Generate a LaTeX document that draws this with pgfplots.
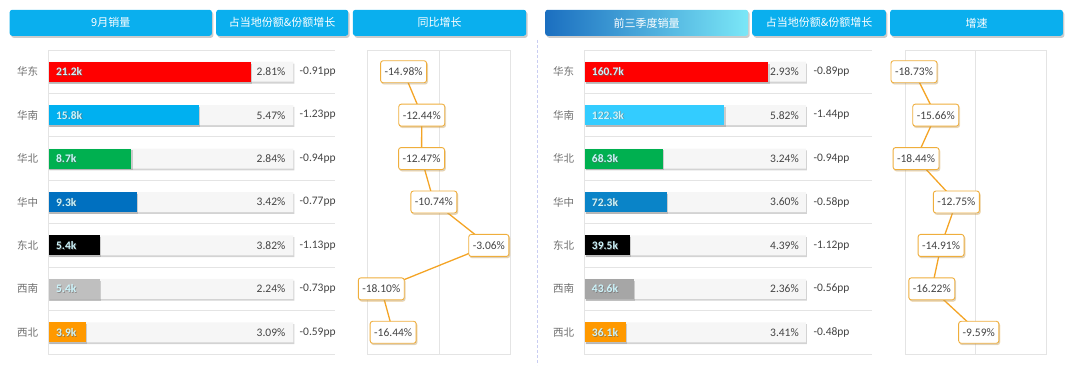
\documentclass[border=0pt]{standalone}
\usepackage{pgfplots}
\usepackage{pgfplotstable}
\pgfplotsset{compat=1.18}
\usetikzlibrary{shadows}
\usepackage{fontspec}
\setmainfont{Carlito}
\newfontfamily\cjk{Noto Sans CJK SC}

\definecolor{hdr}{HTML}{0AAFEE}
\definecolor{hdrA}{HTML}{1B6FC0}
\definecolor{hdrB}{HTML}{7BE7F7}
\definecolor{gridc}{HTML}{E4E4E4}
\definecolor{bgbar}{HTML}{F6F6F6}
\definecolor{txt}{HTML}{444444}
\definecolor{cat}{HTML}{6E6E6E}
\definecolor{linec}{HTML}{F4A425}
\definecolor{boxc}{HTML}{EFAE3C}
\definecolor{vallab}{HTML}{CDF5FC}
\definecolor{sep}{HTML}{C9CDF2}
\definecolor{cR}{HTML}{FF0000}
\definecolor{cBa}{HTML}{00B0F0}
\definecolor{cBb}{HTML}{33CCFF}
\definecolor{cG}{HTML}{00B050}
\definecolor{cDa}{HTML}{0070C0}
\definecolor{cDb}{HTML}{0A84C8}
\definecolor{cK}{HTML}{000000}
\definecolor{cSa}{HTML}{BFBFBF}
\definecolor{cSb}{HTML}{A6A6A6}
\definecolor{cO}{HTML}{FF9900}

\pgfplotsset{
  barax/.style={scale only axis, height=304pt, anchor=south west,
    ymin=-0.5, ymax=6.5, y dir=reverse, xmin=0,
    axis line style={draw=none}, tick style={draw=none},
    major tick length=0pt, minor tick length=0pt,
    ytick={0,...,6}, yticklabels={华东,华南,华北,华中,东北,西南,西北},
    yticklabel style={font=\cjk\fontsize{10.5}{12}\selectfont, text=cat, inner sep=0pt, anchor=east, xshift=-10pt},
    xtick=\empty,
    minor ytick={-0.5,0.5,...,6.5}, yminorgrids,
    minor grid style={gridc, line width=0.8pt},
    clip=false, /pgf/number format/assume math mode=true},
  lineax/.style={scale only axis, height=304pt, anchor=south west,
    ymin=-0.5, ymax=6.5, y dir=reverse, xmin=-20, xmax=0,
    axis line style={gridc, line width=0.8pt}, tick style={draw=none},
    major tick length=0pt, minor tick length=0pt,
    xtick={-10}, xticklabel style={text opacity=0}, xmajorgrids, ytick=\empty,
    minor ytick={0.5,1.5,...,5.5}, yminorgrids,
    grid style={gridc, line width=0.8pt},
    minor grid style={gridc, line width=0.8pt},
    clip=false, /pgf/number format/assume math mode=true},
  cbar/.style={xbar, bar width=20pt, bar shift=0pt, draw=none, fill=#1,
    drop shadow={shadow xshift=1.2pt, shadow yshift=-1.8pt, opacity=0.35}},
  labplot/.style={only marks, mark=none, point meta=explicit,
    every node near coord/.append style={anchor=#1, inner sep=0pt, text=txt,
      font=\fontsize{11.5}{13}\selectfont}},
  ptline/.style={linec, line width=1.3pt, mark=none, point meta=x,
    nodes near coords={\pgfmathprintnumber[fixed,fixed zerofill,precision=2]{\pgfplotspointmeta}\%},
    every node near coord/.append style={anchor=center, draw=boxc, line width=0.9pt,
      fill=white, rounded corners=2.5pt, inner xsep=4pt, inner ysep=0pt,
      minimum height=22pt, text=txt, font=\fontsize{11.5}{13}\selectfont,
      drop shadow={shadow xshift=1pt, shadow yshift=-1.5pt, opacity=0.3}}},
}

\pgfplotstableread{
y v pct pp
0 21.2 2.81 -0.91
1 15.8 5.47 -1.23
2 8.7 2.84 -0.94
3 9.3 3.42 -0.77
4 5.4 3.82 -1.13
5 5.4 2.24 -0.73
6 3.9 3.09 -0.59
}\leftdata

\pgfplotstableread{
y v pct pp
0 160.7 2.93 -0.89
1 122.3 5.82 -1.44
2 68.3 3.24 -0.94
3 72.3 3.60 -0.58
4 39.5 4.39 -1.12
5 43.6 2.36 -0.56
6 36.1 3.41 -0.48
}\rightdata

\begin{document}
\begin{tikzpicture}[x=1pt,y=1pt]
% headers
\tikzset{hbox/.style={anchor=south west, inner sep=0pt, minimum height=26pt,
  rounded corners=2.5pt, text=white, font=\cjk\fontsize{11}{13}\selectfont,
  drop shadow={shadow xshift=1.5pt, shadow yshift=-2pt, opacity=0.4}}}
\node[hbox, fill=hdr, minimum width=202.2pt] at (9.5,329) {9月销量};
\node[hbox, fill=hdr, minimum width=132pt] at (216,329) {占当地份额\&份额增长};
\node[hbox, fill=hdr, minimum width=173.3pt] at (352.7,329) {同比增长};
\node[hbox, left color=hdrA, right color=hdrB, minimum width=203pt] at (545,329) {前三季度销量};
\node[hbox, fill=hdr, minimum width=133.7pt] at (752,329) {占当地份额\&份额增长};
\node[hbox, fill=hdr, minimum width=172.7pt] at (890,329) {增速};
\draw[sep, line width=1pt, dash pattern=on 3pt off 2pt] (537,325) -- (537,0);

% left bars
\begin{axis}[barax, at={(48.3pt,11pt)}, width=286.5pt, xmax=30]
\addplot[cbar=bgbar] coordinates {(25.65,0) (25.65,1) (25.65,2) (25.65,3) (25.65,4) (25.65,5) (25.65,6)};
\addplot[cbar=cR] coordinates {(21.2,0)};
\addplot[cbar=cBa] coordinates {(15.8,1)};
\addplot[cbar=cG] coordinates {(8.7,2)};
\addplot[cbar=cDa] coordinates {(9.3,3)};
\addplot[cbar=cK] coordinates {(5.4,4)};
\addplot[cbar=cSa] coordinates {(5.4,5)};
\addplot[cbar=cO] coordinates {(3.9,6)};
\draw[gridc, line width=0.8pt] (rel axis cs:0,0) -- (rel axis cs:0,1);
\addplot[labplot=west, nodes near coords={\pgfmathprintnumber[fixed,fixed zerofill,precision=1]{\pgfplotspointmeta}k},
  every node near coord/.append style={text=black!60, opacity=0.6, xshift=0.8pt, yshift=-0.8pt, font=\bfseries\fontsize{11.5}{13}\selectfont}]
  table[x expr=0.8, y=y, meta=v] {\leftdata};
\addplot[labplot=west, nodes near coords={\pgfmathprintnumber[fixed,fixed zerofill,precision=1]{\pgfplotspointmeta}k},
  every node near coord/.append style={text=vallab, font=\bfseries\fontsize{11.5}{13}\selectfont}]
  table[x expr=0.8, y=y, meta=v] {\leftdata};
\addplot[labplot=east, nodes near coords={\pgfmathprintnumber[fixed,fixed zerofill,precision=2]{\pgfplotspointmeta}\%}]
  table[x expr=24.84, y=y, meta=pct] {\leftdata};
\addplot[labplot=west, nodes near coords={\pgfmathprintnumber[fixed,fixed zerofill,precision=2]{\pgfplotspointmeta}pp}]
  table[x expr=26.3, y=y, meta=pp] {\leftdata};
\end{axis}

% left line
\begin{axis}[lineax, at={(367.7pt,11pt)}, width=143pt]
\addplot[ptline] coordinates {(-14.98,0) (-12.44,1) (-12.47,2) (-10.74,3) (-3.06,4) (-18.10,5) (-16.44,6)};
\end{axis}

% right bars
\begin{axis}[barax, at={(584.3pt,11pt)}, width=287.4pt, xmax=251]
\addplot[cbar=bgbar] coordinates {(193.4,0) (193.4,1) (193.4,2) (193.4,3) (193.4,4) (193.4,5) (193.4,6)};
\addplot[cbar=cR] coordinates {(160.7,0)};
\addplot[cbar=cBb] coordinates {(122.3,1)};
\addplot[cbar=cG] coordinates {(68.3,2)};
\addplot[cbar=cDb] coordinates {(72.3,3)};
\addplot[cbar=cK] coordinates {(39.5,4)};
\addplot[cbar=cSb] coordinates {(43.6,5)};
\addplot[cbar=cO] coordinates {(36.1,6)};
\draw[gridc, line width=0.8pt] (rel axis cs:0,0) -- (rel axis cs:0,1);
\addplot[labplot=west, nodes near coords={\pgfmathprintnumber[fixed,fixed zerofill,precision=1]{\pgfplotspointmeta}k},
  every node near coord/.append style={text=black!60, opacity=0.6, xshift=0.8pt, yshift=-0.8pt, font=\bfseries\fontsize{11.5}{13}\selectfont}]
  table[x expr=6.5, y=y, meta=v] {\rightdata};
\addplot[labplot=west, nodes near coords={\pgfmathprintnumber[fixed,fixed zerofill,precision=1]{\pgfplotspointmeta}k},
  every node near coord/.append style={text=vallab, font=\bfseries\fontsize{11.5}{13}\selectfont}]
  table[x expr=6.5, y=y, meta=v] {\rightdata};
\addplot[labplot=east, nodes near coords={\pgfmathprintnumber[fixed,fixed zerofill,precision=2]{\pgfplotspointmeta}\%}]
  table[x expr=187.5, y=y, meta=pct] {\rightdata};
\addplot[labplot=west, nodes near coords={\pgfmathprintnumber[fixed,fixed zerofill,precision=2]{\pgfplotspointmeta}pp}]
  table[x expr=200, y=y, meta=pp] {\rightdata};
\end{axis}

% right line
\begin{axis}[lineax, at={(905pt,11pt)}, width=141.7pt]
\addplot[ptline] coordinates {(-18.73,0) (-15.66,1) (-18.44,2) (-12.75,3) (-14.91,4) (-16.22,5) (-9.59,6)};
\end{axis}

\pgfresetboundingbox
\path (0,0) rectangle (1080,365);
\end{tikzpicture}
\end{document}
